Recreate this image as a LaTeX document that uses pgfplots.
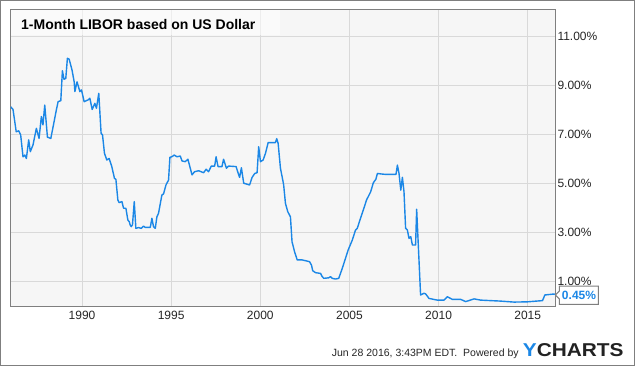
\documentclass[border=0pt]{standalone}
\usepackage{fontspec}
\setmainfont{Liberation Sans}
\usepackage{pgfplots}
\pgfplotsset{compat=1.18}
\definecolor{linec}{HTML}{1B87E6}
\definecolor{gridc}{HTML}{D9D9D9}
\definecolor{framec}{HTML}{7F7F7F}
\definecolor{bgc}{HTML}{F6F6F6}
\definecolor{logoc}{HTML}{222222}
\begin{document}
\begin{tikzpicture}[x=1bp,y=1bp]
\useasboundingbox (0,0) rectangle (635,366);
\fill[white] (0,0) rectangle (635,366);
\begin{axis}[
  at={(10.7bp,60bp)}, anchor=south west, scale only axis,
  width=544.3bp, height=296bp,
  xmin=1986, xmax=2016.53, ymin=-0.02, ymax=12.06,
  xtick={1990,1995,2000,2005,2010,2015},
  xticklabels={1990,1995,2000,2005,2010,2015},
  ytick={1,3,5,7,9,11},
  yticklabels={1.00\%,3.00\%,5.00\%,7.00\%,9.00\%,11.00\%},
  yticklabel pos=right,
  major tick length=0pt,
  grid=major, grid style={draw=gridc, line width=0.9bp},
  axis line style={draw=framec, line width=1bp},
  axis background/.style={fill=bgc},
  tick label style={font=\fontsize{12bp}{14bp}\selectfont, text=black!85},
  xticklabel style={yshift=-2bp},
  yticklabel style={xshift=-1bp},
]
\addplot[linec, line width=1.4bp, line join=round] table {
x y
1986.00 8.11
1986.13 8.00
1986.31 7.09
1986.45 7.13
1986.56 6.96
1986.69 6.07
1986.79 6.14
1986.88 6.00
1987.01 6.76
1987.10 6.28
1987.25 6.55
1987.44 7.23
1987.59 6.82
1987.72 7.71
1987.81 7.37
1987.91 8.18
1988.06 6.87
1988.25 6.82
1988.38 7.30
1988.56 7.98
1988.66 8.32
1988.81 8.36
1988.90 9.58
1988.99 9.23
1989.09 9.27
1989.18 10.09
1989.28 10.05
1989.44 9.61
1989.56 9.13
1989.60 8.73
1989.72 9.13
1989.88 8.73
1989.97 8.80
1990.12 8.32
1990.34 8.39
1990.44 8.46
1990.57 8.00
1990.72 8.25
1990.81 8.05
1990.94 8.66
1991.07 7.03
1991.15 6.96
1991.26 6.21
1991.39 5.94
1991.52 6.00
1991.67 5.67
1991.82 5.19
1991.90 5.15
1992.01 4.31
1992.08 4.20
1992.24 4.24
1992.33 3.97
1992.46 3.97
1992.57 3.49
1992.65 3.42
1992.70 3.29
1992.76 3.22
1992.83 3.29
1992.93 4.24
1993.02 3.15
1993.17 3.18
1993.32 3.15
1993.45 3.24
1993.54 3.19
1993.83 3.19
1993.92 3.56
1994.01 3.22
1994.11 3.15
1994.20 3.62
1994.29 3.76
1994.48 4.51
1994.57 4.55
1994.71 4.92
1994.82 5.08
1994.85 5.08
1994.93 6.05
1995.04 6.07
1995.17 6.14
1995.33 6.07
1995.51 6.10
1995.61 5.90
1995.79 5.87
1995.94 5.97
1996.17 5.33
1996.31 5.46
1996.54 5.50
1996.82 5.42
1996.96 5.56
1997.10 5.46
1997.25 5.69
1997.44 5.69
1997.52 6.07
1997.63 5.67
1997.85 5.67
1997.94 5.97
1998.10 5.60
1998.22 5.69
1998.64 5.67
1998.79 5.33
1998.84 5.23
1998.94 5.62
1999.07 4.99
1999.26 4.95
1999.40 4.92
1999.54 5.23
1999.69 5.39
1999.82 5.42
1999.91 6.48
2000.01 5.87
2000.16 5.94
2000.29 6.21
2000.44 6.65
2000.57 6.65
2000.85 6.65
2000.92 6.81
2001.00 6.62
2001.13 5.60
2001.26 5.12
2001.31 4.92
2001.41 4.17
2001.54 3.83
2001.69 3.62
2001.78 2.60
2001.92 2.20
2002.07 1.86
2002.35 1.86
2002.76 1.79
2002.87 1.65
2002.94 1.42
2003.10 1.34
2003.38 1.31
2003.47 1.18
2003.56 1.11
2003.84 1.13
2003.94 1.18
2004.03 1.11
2004.22 1.08
2004.40 1.11
2004.60 1.52
2004.78 1.93
2004.93 2.27
2005.16 2.67
2005.34 3.08
2005.44 3.15
2005.62 3.56
2005.81 3.97
2005.96 4.31
2006.19 4.64
2006.34 5.01
2006.48 5.15
2006.57 5.39
2006.76 5.37
2007.04 5.35
2007.61 5.35
2007.69 5.73
2007.78 5.39
2007.88 4.71
2007.97 5.23
2008.06 4.64
2008.15 3.15
2008.25 3.08
2008.34 2.74
2008.44 2.81
2008.53 2.47
2008.71 2.47
2008.77 3.93
2008.99 0.43
2009.18 0.50
2009.28 0.47
2009.46 0.29
2009.93 0.22
2010.30 0.22
2010.49 0.36
2010.77 0.25
2011.24 0.25
2011.52 0.16
2011.99 0.27
2012.36 0.22
2013.48 0.18
2014.23 0.14
2014.98 0.15
2015.83 0.20
2015.96 0.43
2016.48 0.47
2016.52 0.45
};
\end{axis}
% title band
\fill[white, opacity=0.55] (11.2,331) rectangle (280,355.5);
\node[anchor=base west, inner sep=0pt, font=\bfseries\fontsize{14bp}{16bp}\selectfont] at (21,337) {1-Month LIBOR based on US Dollar};
% last value callout
\draw[framec, fill=white, line width=1bp] (555.5,71) -- (559.3,75) -- (559.3,80) -- (598.3,80) -- (598.3,61.7) -- (559.3,61.7) -- (559.3,67) -- cycle;
\node[inner sep=0pt, text=linec, font=\bfseries\fontsize{12bp}{14bp}\selectfont] at (579,71) {0.45\%};
% footer
\node[anchor=base west, inner sep=0pt, font=\fontsize{10.5bp}{12bp}\selectfont, text=black!85] at (331.7,10) {Jun 28 2016, 3:43PM EDT.\ \ Powered by};
\node[anchor=base west, inner sep=0pt, font=\bfseries\fontsize{18.6bp}{20bp}\selectfont] at (522.7,10) {\scalebox{1.12}[1]{\textcolor{linec}{Y}\textcolor{logoc}{CHARTS}}};
% outer border
\draw[framec, line width=1.2bp] (0.6,0.6) rectangle (634.4,365.4);
\end{tikzpicture}
\end{document}
